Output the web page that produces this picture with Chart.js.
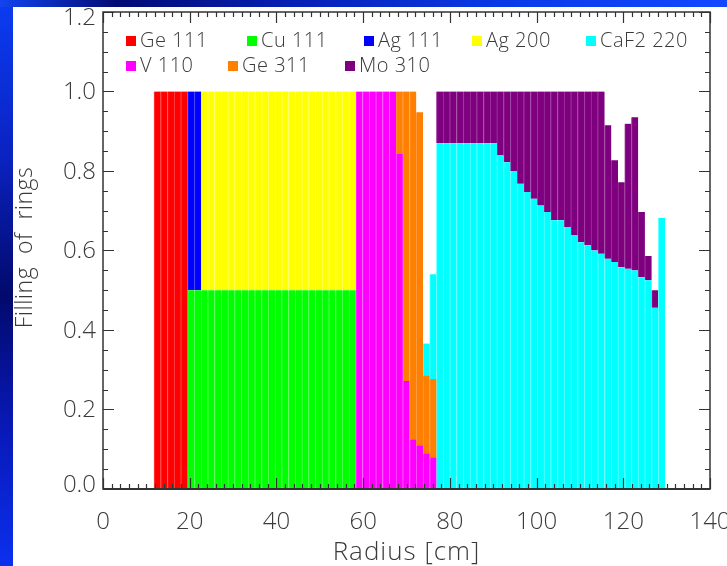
<!DOCTYPE html>
<html>
<head>
<meta charset="utf-8">
<script src="https://cdn.jsdelivr.net/npm/chart.js@4.4.0/dist/chart.umd.min.js"></script>
<style>
  html, body { margin: 0; padding: 0; }
  body {
    width: 727px; height: 566px; position: relative; overflow: hidden;
    background: linear-gradient(to bottom, #0b3cf2 0%, #0a22c0 28%, #020a6c 52%, #0819b8 76%, #0b30ee 100%);
  }
  #topband {
    position: absolute; left: 0; top: 0; width: 727px; height: 7px;
    background: linear-gradient(to right, #1244f0 0%, #020b74 16%, #0720b4 40%, #0a3ae8 70%, #1448ff 100%);
  }
  #panel { position: absolute; left: 13px; top: 7px; right: 0; bottom: 0; background: #fff; }
  #myChart { position: absolute; left: 0; top: 0; z-index: 2; }
</style>
</head>
<body>
<div id="topband"></div>
<div id="panel"></div>
<canvas id="myChart" width="727" height="566"></canvas>
<script>
// ring radius (bin centres, cm)
const radius = [
  12.54, 14.09, 15.64, 17.19, 18.74, 20.30, 21.85, 23.40, 24.95, 26.50,
  28.05, 29.60, 31.15, 32.70, 34.25, 35.81, 37.36, 38.91, 40.46, 42.01,
  43.56, 45.11, 46.66, 48.21, 49.76, 51.32, 52.87, 54.42, 55.97, 57.52,
  59.07, 60.62, 62.17, 63.72, 65.27, 66.83, 68.38, 69.93, 71.48, 73.03,
  74.58, 76.13, 77.68, 79.23, 80.78, 82.34, 83.89, 85.44, 86.99, 88.54,
  90.09, 91.64, 93.19, 94.74, 96.29, 97.85, 99.40, 100.95, 102.50, 104.05,
  105.60, 107.15, 108.70, 110.25, 111.80, 113.36, 114.91, 116.46, 118.01, 119.56,
  121.11, 122.66, 124.21, 125.76, 127.31, 128.87
];

const ge111 = [
  1, 1, 1, 1, 1, null, null, null, null, null,
  null, null, null, null, null, null, null, null, null, null,
  null, null, null, null, null, null, null, null, null, null,
  null, null, null, null, null, null, null, null, null, null,
  null, null, null, null, null, null, null, null, null, null,
  null, null, null, null, null, null, null, null, null, null,
  null, null, null, null, null, null, null, null, null, null,
  null, null, null, null, null, null
];
const cu111 = [
  null, null, null, null, null, 0.5, 0.5, 0.5, 0.5, 0.5,
  0.5, 0.5, 0.5, 0.5, 0.5, 0.5, 0.5, 0.5, 0.5, 0.5,
  0.5, 0.5, 0.5, 0.5, 0.5, 0.5, 0.5, 0.5, 0.5, 0.5,
  null, null, null, null, null, null, null, null, null, null,
  null, null, null, null, null, null, null, null, null, null,
  null, null, null, null, null, null, null, null, null, null,
  null, null, null, null, null, null, null, null, null, null,
  null, null, null, null, null, null
];
const ag111 = [
  null, null, null, null, null, 0.5, 0.5, null, null, null,
  null, null, null, null, null, null, null, null, null, null,
  null, null, null, null, null, null, null, null, null, null,
  null, null, null, null, null, null, null, null, null, null,
  null, null, null, null, null, null, null, null, null, null,
  null, null, null, null, null, null, null, null, null, null,
  null, null, null, null, null, null, null, null, null, null,
  null, null, null, null, null, null
];
const ag200 = [
  null, null, null, null, null, null, null, 0.5, 0.5, 0.5,
  0.5, 0.5, 0.5, 0.5, 0.5, 0.5, 0.5, 0.5, 0.5, 0.5,
  0.5, 0.5, 0.5, 0.5, 0.5, 0.5, 0.5, 0.5, 0.5, 0.5,
  null, null, null, null, null, null, null, null, null, null,
  null, null, null, null, null, null, null, null, null, null,
  null, null, null, null, null, null, null, null, null, null,
  null, null, null, null, null, null, null, null, null, null,
  null, null, null, null, null, null
];
const v110 = [
  null, null, null, null, null, null, null, null, null, null,
  null, null, null, null, null, null, null, null, null, null,
  null, null, null, null, null, null, null, null, null, null,
  1, 1, 1, 1, 1, 1, 0.843, 0.272, 0.125, 0.11,
  0.09, 0.08, null, null, null, null, null, null, null, null,
  null, null, null, null, null, null, null, null, null, null,
  null, null, null, null, null, null, null, null, null, null,
  null, null, null, null, null, null
];
const ge311 = [
  null, null, null, null, null, null, null, null, null, null,
  null, null, null, null, null, null, null, null, null, null,
  null, null, null, null, null, null, null, null, null, null,
  null, null, null, null, null, null, 0.157, 0.728, 0.875, 0.838,
  0.196, 0.197, null, null, null, null, null, null, null, null,
  null, null, null, null, null, null, null, null, null, null,
  null, null, null, null, null, null, null, null, null, null,
  null, null, null, null, null, null
];
const caf2 = [
  null, null, null, null, null, null, null, null, null, null,
  null, null, null, null, null, null, null, null, null, null,
  null, null, null, null, null, null, null, null, null, null,
  null, null, null, null, null, null, null, null, null, null,
  0.08, 0.263, 0.87, 0.87, 0.87, 0.87, 0.87, 0.87, 0.87, 0.87,
  0.87, 0.839, 0.822, 0.80, 0.768, 0.747, 0.73, 0.713, 0.697, 0.676,
  0.676, 0.659, 0.638, 0.621, 0.613, 0.60, 0.592, 0.579, 0.571, 0.558,
  0.554, 0.55, 0.533, 0.525, 0.456, 0.682
];
const mo310 = [
  null, null, null, null, null, null, null, null, null, null,
  null, null, null, null, null, null, null, null, null, null,
  null, null, null, null, null, null, null, null, null, null,
  null, null, null, null, null, null, null, null, null, null,
  null, null, 0.13, 0.13, 0.13, 0.13, 0.13, 0.13, 0.13, 0.13,
  0.13, 0.161, 0.178, 0.20, 0.232, 0.253, 0.27, 0.287, 0.303, 0.324,
  0.324, 0.341, 0.362, 0.379, 0.387, 0.40, 0.408, 0.336, 0.256, 0.214,
  0.365, 0.385, 0.164, 0.061, 0.044, null
];

const xTicks = [0, 20, 40, 60, 80, 100, 120, 140];
const yTicks = [0.0, 0.2, 0.4, 0.6, 0.8, 1.0, 1.2];

// stacking order (bottom -> top)
const series = [
  { label: 'Ge 111',   data: ge111, color: '#ff0000', line: '#ff4646' },
  { label: 'Cu 111',   data: cu111, color: '#00ff00', line: '#4cff4c' },
  { label: 'Ag 111',   data: ag111, color: '#0000ff', line: '#3c3cff' },
  { label: 'Ag 200',   data: ag200, color: '#ffff00', line: '#ffff5a' },
  { label: 'V 110',    data: v110,  color: '#ff00ff', line: '#ff50ff' },
  { label: 'Ge 311',   data: ge311, color: '#ff7f00', line: '#ff9c40' },
  { label: 'CaF2 220', data: caf2,  color: '#00ffff', line: '#5cffff' },
  { label: 'Mo 310',   data: mo310, color: '#7f007f', line: '#9a329a' }
];

// legend rows as in the picture
const legendRows = [
  ['Ge 111', 'Cu 111', 'Ag 111', 'Ag 200', 'CaF2 220'],
  ['V 110', 'Ge 311', 'Mo 310']
];
const legendX = [[126, 247, 364, 472, 586], [126, 228, 345]];
const legendY = [41, 66];

const FONT = '"Open Sans", "DejaVu Sans", sans-serif';
const TXT = '#3a3a3a';

const axesPlugin = {
  id: 'axesPlugin',
  afterDatasetsDraw(chart) {
    const ctx = chart.ctx;
    const a = chart.chartArea;
    const x = chart.scales.x;
    const y = chart.scales.y;
    ctx.save();
    ctx.strokeStyle = '#333';
    ctx.lineWidth = 1.2;
    ctx.beginPath();
    // x ticks, every 2 cm, major every 20
    for (let i = 0; i <= 70; i++) {
      const px = Math.round(x.getPixelForValue(i * 2)) + 0.5;
      const len = i % 10 === 0 ? 11 : 5;
      ctx.moveTo(px, a.bottom); ctx.lineTo(px, a.bottom - len);
      ctx.moveTo(px, a.top); ctx.lineTo(px, a.top + len);
    }
    // y ticks, every 0.05, major every 0.2
    for (let i = 0; i <= 24; i++) {
      const py = Math.round(y.getPixelForValue(i * 0.05)) + 0.5;
      const len = i % 4 === 0 ? 11 : 5;
      ctx.moveTo(a.left, py); ctx.lineTo(a.left + len, py);
      ctx.moveTo(a.right, py); ctx.lineTo(a.right - len, py);
    }
    ctx.stroke();
    ctx.lineWidth = 1.5;
    ctx.strokeRect(a.left, a.top, a.right - a.left, a.bottom - a.top);
    ctx.lineWidth = 2.2;
    ctx.beginPath();
    ctx.moveTo(a.left, a.bottom); ctx.lineTo(a.right, a.bottom);
    ctx.stroke();

    // tick labels
    ctx.fillStyle = TXT;
    ctx.font = '300 24px ' + FONT;
    ctx.textAlign = 'center';
    ctx.textBaseline = 'middle';
    xTicks.forEach(v => ctx.fillText(String(v), x.getPixelForValue(v), a.bottom + 33));
    ctx.textAlign = 'right';
    yTicks.forEach(v => {
      const py = Math.min(Math.max(y.getPixelForValue(v) + 1, a.top + 6), a.bottom - 4);
      ctx.fillText(v.toFixed(1), a.left - 7, py);
    });

    // axis titles
    ctx.font = '300 26px ' + FONT;
    ctx.letterSpacing = '1px';
    ctx.textAlign = 'center';
    ctx.fillText('Radius [cm]', (a.left + a.right) / 2, a.bottom + 64);
    ctx.font = '300 23px ' + FONT;
    ctx.letterSpacing = '0.5px';
    ctx.save();
    ctx.translate(25, (a.top + a.bottom) / 2 - 3);
    ctx.rotate(-Math.PI / 2);
    ctx.fillText('Filling  of  rings', 0, 0);
    ctx.restore();

    // legend
    ctx.font = '300 20px ' + FONT;
    ctx.letterSpacing = '0.5px';
    ctx.textAlign = 'left';
    legendRows.forEach((row, r) => {
      row.forEach((name, c) => {
        const s = series.find(d => d.label === name);
        const lx = legendX[r][c];
        const ly = legendY[r];
        ctx.fillStyle = s.color;
        ctx.fillRect(lx, ly - 5, 10, 10);
        ctx.fillStyle = TXT;
        ctx.fillText(name, lx + 14, ly);
      });
    });
    ctx.restore();
  }
};

const ctx = document.getElementById('myChart').getContext('2d');
const myChart = new Chart(ctx, {
  type: 'bar',
  data: {
    datasets: series.map(s => ({
      label: s.label,
      data: radius.map((r, i) => ({ x: r, y: s.data[i] })),
      backgroundColor: s.color,
      borderColor: s.line,
      borderWidth: { left: 1, right: 0, top: 0, bottom: 0 },
      borderSkipped: false,
      barPercentage: 1,
      categoryPercentage: 1
    }))
  },
  options: {
    responsive: false,
    animation: false,
    layout: { padding: { left: 103, right: 17, top: 12, bottom: 77 } },
    plugins: { legend: { display: false }, tooltip: { enabled: false } },
    scales: {
      x: { type: 'linear', display: false, stacked: true, offset: false, min: 0, max: 140, ticks: { stepSize: 20 } },
      y: { display: false, stacked: true, min: 0, max: 1.2, ticks: { stepSize: 0.2 } }
    }
  },
  plugins: [axesPlugin]
});
</script>
</body>
</html>
